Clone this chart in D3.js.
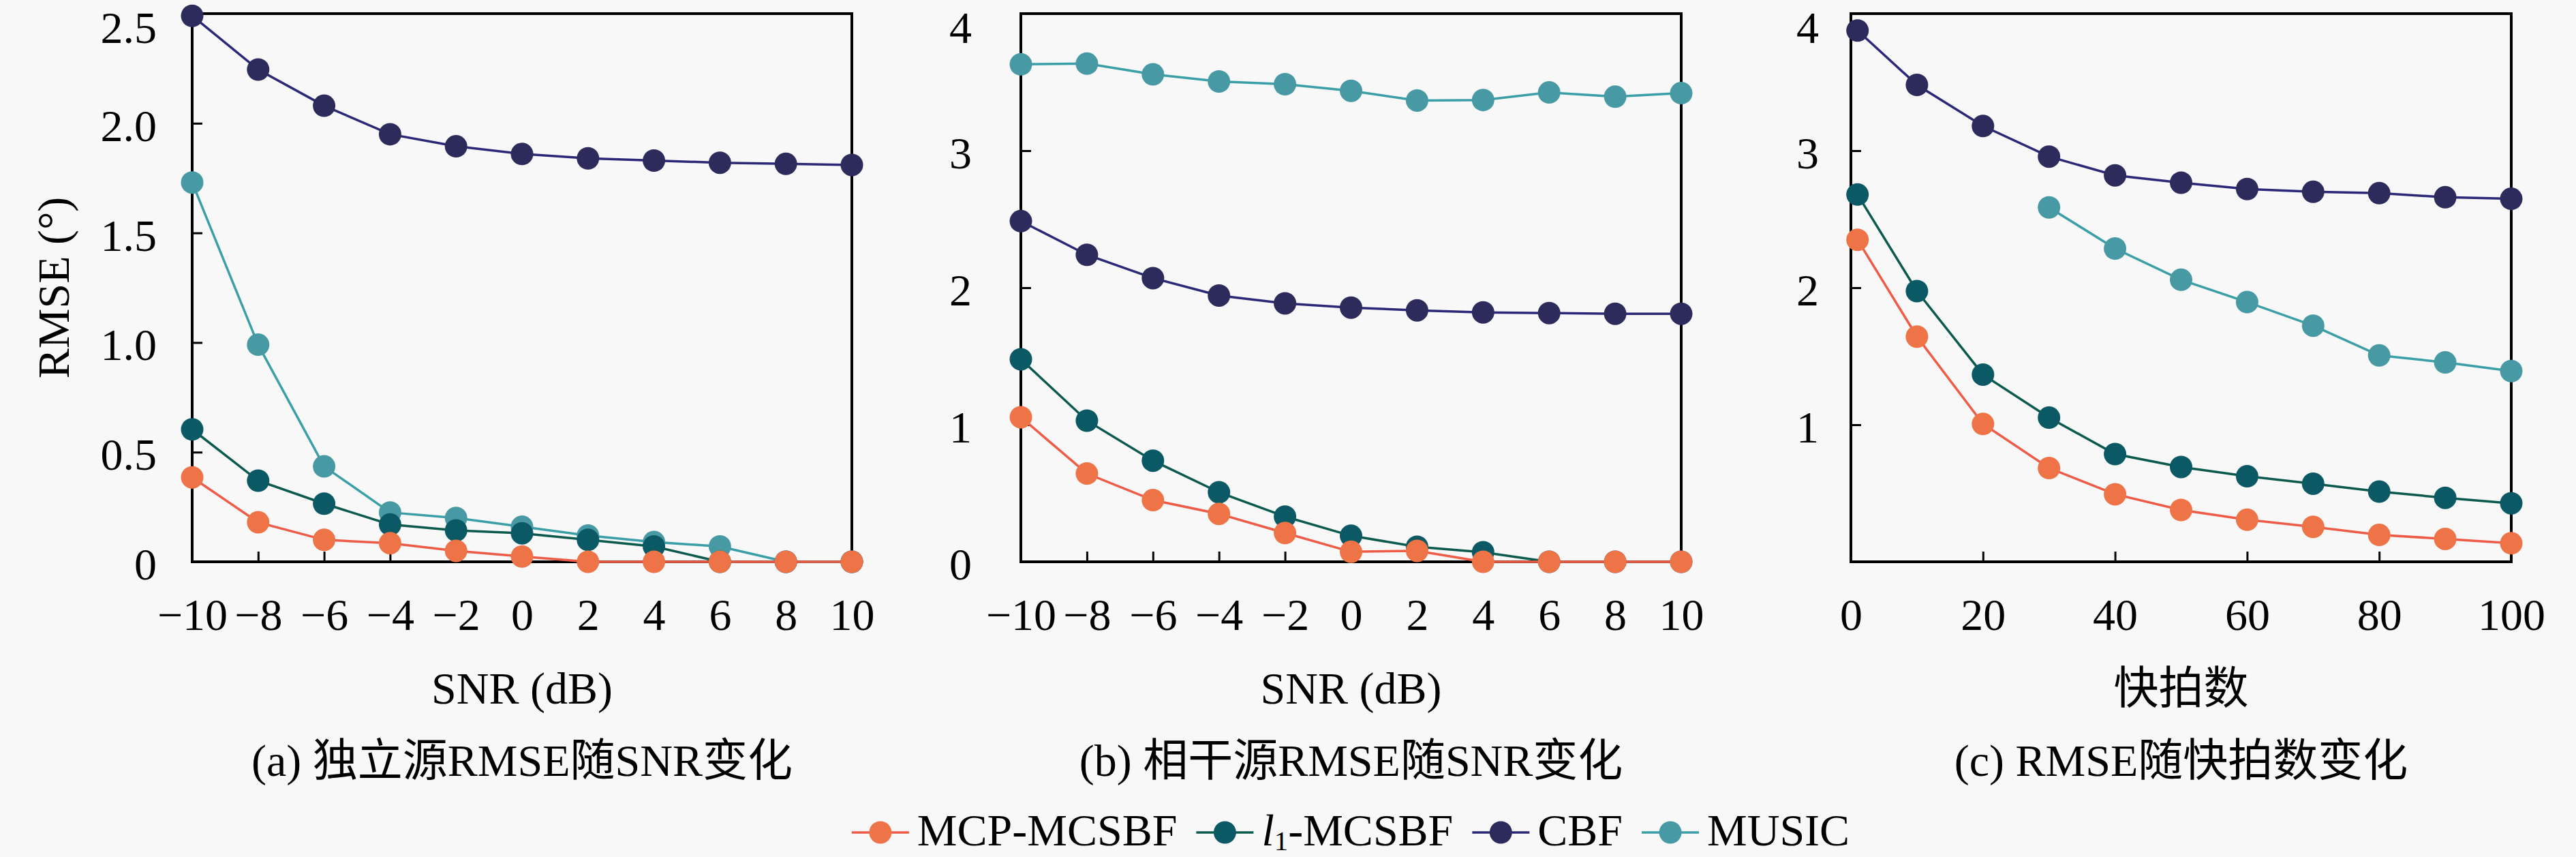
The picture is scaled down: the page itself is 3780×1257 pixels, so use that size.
<!DOCTYPE html>
<html>
<head>
<meta charset="utf-8">
<script src="https://cdn.jsdelivr.net/npm/d3@7"></script>
<style>
  html, body { margin: 0; padding: 0; background: #f8f8f8; }
  svg { display: block; }
  text { font-family: "Liberation Serif", "Noto Sans CJK SC", serif; fill: #000; }
</style>
</head>
<body>
<svg id="chart"></svg>
<script>
// x values
const snr = [-10, -8, -6, -4, -2, 0, 2, 4, 6, 8, 10]
const snapshots = [1, 10, 20, 30, 40, 50, 60, 70, 80, 90, 100]

// (a) independent sources, RMSE vs SNR
const aMcp   = [0.385, 0.18, 0.10, 0.085, 0.05, 0.024, 0, 0, 0, 0, 0]
const aL1    = [0.604, 0.37, 0.265, 0.17, 0.143, 0.13, 0.10, 0.07, 0, 0, 0]
const aCbf   = [2.49, 2.245, 2.08, 1.95, 1.895, 1.86, 1.84, 1.83, 1.82, 1.815, 1.81]
const aMusic = [1.73, 0.99, 0.435, 0.225, 0.20, 0.16, 0.12, 0.09, 0.07, 0, 0]

// (b) coherent sources, RMSE vs SNR
const bMcp   = [1.055, 0.644, 0.45, 0.35, 0.21, 0.073, 0.08, 0, 0, 0, 0]
const bL1    = [1.478, 1.03, 0.738, 0.507, 0.33, 0.19, 0.11, 0.07, 0, 0, 0]
const bCbf   = [2.486, 2.24, 2.07, 1.943, 1.886, 1.855, 1.835, 1.82, 1.815, 1.81, 1.81]
const bMusic = [3.63, 3.635, 3.557, 3.505, 3.485, 3.437, 3.366, 3.37, 3.425, 3.394, 3.42]

// (c) RMSE vs number of snapshots
const cMcp   = [2.35, 1.643, 1.006, 0.684, 0.493, 0.378, 0.307, 0.255, 0.196, 0.167, 0.135]
const cL1    = [2.68, 1.975, 1.366, 1.052, 0.786, 0.692, 0.624, 0.57, 0.512, 0.467, 0.427]
const cCbf   = [3.877, 3.48, 3.18, 2.957, 2.82, 2.766, 2.72, 2.70, 2.69, 2.66, 2.649]
const cMusic = [null, null, null, 2.586, 2.286, 2.058, 1.895, 1.723, 1.506, 1.455, 1.392]

// series names and tick labels
const seriesNames = ["MCP-MCSBF", "l1-MCSBF", "CBF", "MUSIC"]
const snrTicks = [-10, -8, -6, -4, -2, 0, 2, 4, 6, 8, 10]
const snapTicks = [0, 20, 40, 60, 80, 100]
const aYTicks = [0, 0.5, 1.0, 1.5, 2.0, 2.5]
const bYTicks = [0, 1, 2, 3, 4]
const cYTicks = [1, 2, 3, 4]
const xTitles = ["SNR (dB)", "SNR (dB)", "快拍数"]
const captions = ["(a) 独立源RMSE随SNR变化", "(b) 相干源RMSE随SNR变化", "(c) RMSE随快拍数变化"]

// styling
const W = 3780, H = 1257
const fontSize = 66
const markerColor = ["#ee7447", "#0b5964", "#2d2a5c", "#4799a3"]
const lineColor   = ["#ee5c48", "#0c5a4e", "#2b2877", "#3a9fa6"]
const drawOrder = [3, 2, 1, 0]   // MUSIC underneath, MCP on top

const plotTop = 20, plotBottom = 824
const panels = [
    { left: 282,  right: 1250, xs: snr, xDomain: [-10, 10], xTicks: snrTicks, yDomain: [0, 2.5], yTicks: aYTicks,
      fmt: d => d === 0 ? "0" : d.toFixed(1), gap: 52, series: [aMcp, aL1, aCbf, aMusic] },
    { left: 1498, right: 2467, xs: snr, xDomain: [-10, 10], xTicks: snrTicks, yDomain: [0, 4], yTicks: bYTicks,
      fmt: d3.format("d"), gap: 72, series: [bMcp, bL1, bCbf, bMusic] },
    { left: 2716, right: 3685, xs: snapshots, xDomain: [0, 100], xTicks: snapTicks, yDomain: [0, 4], yTicks: cYTicks,
      fmt: d3.format("d"), gap: 47, series: [cMcp, cL1, cCbf, cMusic] }
]

const svg = d3.select("#chart").attr("width", W).attr("height", H)
svg.append("rect").attr("width", W).attr("height", H).attr("fill", "#f8f8f8")

panels.forEach((p, pi) => {
    const x = d3.scaleLinear().domain(p.xDomain).range([p.left, p.right])
    const y = d3.scaleLinear().domain(p.yDomain).range([plotBottom, plotTop])
    const g = svg.append("g")

    // bottom axis, ticks pointing inward
    const gx = g.append("g")
        .attr("transform", `translate(0, ${plotBottom})`)
        .call(d3.axisBottom(x).tickValues(p.xTicks).tickSizeInner(-15).tickSizeOuter(0))
    gx.select(".domain").remove()
    gx.selectAll("line").attr("stroke", "#000").attr("stroke-width", 3)
    gx.selectAll("text").attr("y", 100).attr("dy", 0)
        .style("font-size", fontSize + "px").style("font-family", "Liberation Serif")

    // left axis; the top label is pushed down so it stays inside the page
    const gy = g.append("g")
        .attr("transform", `translate(${p.left}, 0)`)
        .call(d3.axisLeft(y).tickValues(p.yTicks).tickFormat(p.fmt)
            .tickSizeInner(-15).tickSizeOuter(0).tickPadding(p.gap))
    gy.select(".domain").remove()
    gy.selectAll("line").attr("stroke", "#000").attr("stroke-width", 3)
    gy.selectAll("text")
        .attr("y", d => Math.max(3, 40 - y(d)))
        .attr("dy", "0.34em")
        .style("font-size", fontSize + "px").style("font-family", "Liberation Serif")

    // frame
    g.append("rect")
        .attr("x", p.left).attr("y", plotTop)
        .attr("width", p.right - p.left).attr("height", plotBottom - plotTop)
        .attr("fill", "none").attr("stroke", "#000").attr("stroke-width", 4)

    // series
    drawOrder.forEach(si => {
        const vals = p.series[si]
        const pts = p.xs.map((xv, i) => [xv, vals[i]])
        const line = d3.line()
            .defined(d => d[1] !== null)
            .x(d => x(d[0]))
            .y(d => y(d[1]))
        g.append("path")
            .datum(pts)
            .attr("d", line)
            .attr("fill", "none")
            .attr("stroke", lineColor[si])
            .attr("stroke-width", 3.5)
        g.selectAll(null)
            .data(pts.filter(d => d[1] !== null))
            .enter()
            .append("circle")
            .attr("cx", d => x(d[0]))
            .attr("cy", d => y(d[1]))
            .attr("r", 16.5)
            .attr("fill", markerColor[si])
    })

    const cx = (p.left + p.right) / 2
    g.append("text").attr("x", cx).attr("y", 1032)
        .attr("text-anchor", "middle").style("font-size", fontSize + "px")
        .text(xTitles[pi])
    g.append("text").attr("x", cx).attr("y", 1138)
        .attr("text-anchor", "middle").style("font-size", fontSize + "px")
        .text(captions[pi])
})

// y-axis title of panel (a)
svg.append("text")
    .attr("transform", `translate(101, ${(plotTop + plotBottom) / 2}) rotate(-90)`)
    .attr("text-anchor", "middle")
    .style("font-size", fontSize + "px")
    .text("RMSE (°)")

// legend
const legend = svg.append("g")
const lineLen = 84, gapText = 12, gapItem = 28, legendY = 1221, legendBase = 1240
let cursor = 0
seriesNames.forEach((name, i) => {
    const item = legend.append("g").attr("transform", `translate(${cursor}, 0)`)
    item.append("line")
        .attr("x1", 0).attr("x2", lineLen)
        .attr("y1", legendY).attr("y2", legendY)
        .attr("stroke", lineColor[i]).attr("stroke-width", 3.5)
    item.append("circle")
        .attr("cx", lineLen / 2).attr("cy", legendY).attr("r", 16.5)
        .attr("fill", markerColor[i])
    const t = item.append("text")
        .attr("x", lineLen + gapText).attr("y", legendBase)
        .style("font-size", fontSize + "px")
    if (name.startsWith("l1")) {
        t.append("tspan").style("font-style", "italic").text("l")
        t.append("tspan").attr("dy", 7).style("font-size", (fontSize * 0.62) + "px").text("1")
        t.append("tspan").attr("dy", -7).text(name.slice(2))
    } else {
        t.text(name)
    }
    cursor += lineLen + gapText + t.node().getComputedTextLength() + gapItem
})
const legendWidth = cursor - gapItem
legend.attr("transform", `translate(${1982 - legendWidth / 2}, 0)`)
</script>
</body>
</html>
